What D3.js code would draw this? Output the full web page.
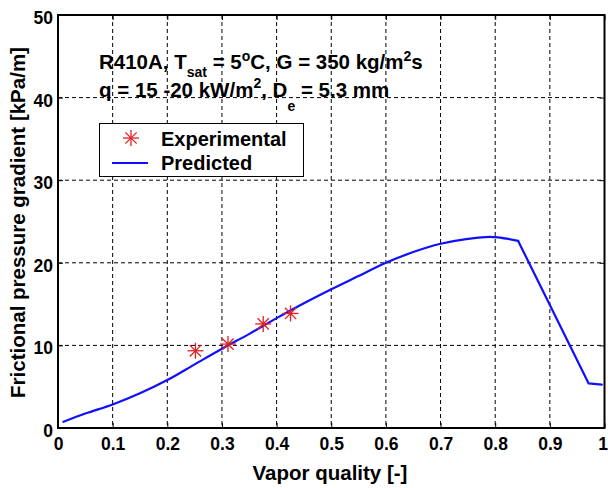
<!DOCTYPE html>
<html>
<head>
<meta charset="utf-8">
<script src="https://cdn.jsdelivr.net/npm/d3@7"></script>
<style>
  html, body { margin: 0; padding: 0; background: #fff; }
  svg { display: block; }
  text { font-family: "Liberation Sans", Arial, Helvetica, sans-serif; font-weight: bold; fill: #000; }
</style>
</head>
<body>
<svg id="chart" width="608" height="488"></svg>
<script>
// Predicted frictional pressure gradient vs vapor quality
const qualityPred = [0.01, 0.05, 0.1, 0.15, 0.2, 0.25, 0.3, 0.35, 0.4, 0.45, 0.5, 0.55, 0.6, 0.65, 0.7, 0.75, 0.79, 0.842, 0.971, 0.995];
const gradientPred = [0.75, 1.75, 2.85, 4.2, 5.8, 7.7, 9.6, 11.4, 13.3, 15.1, 16.8, 18.4, 20.0, 21.3, 22.3, 22.9, 23.15, 22.65, 5.4, 5.25];
// index where the smooth branch ends and the dry-out drop begins
const dryoutStart = 17;

// Measured points
const qualityExp = [0.2515, 0.311, 0.3755, 0.4255];
const gradientExp = [9.35, 10.16, 12.6, 13.87];

// Axis ticks
const xTicks = [0, 0.1, 0.2, 0.3, 0.4, 0.5, 0.6, 0.7, 0.8, 0.9, 1];
const xTickLabels = ["0", "0.1", "0.2", "0.3", "0.4", "0.5", "0.6", "0.7", "0.8", "0.9", "1"];
const yTicks = [0, 10, 20, 30, 40, 50];
const yTickLabels = ["0", "10", "20", "30", "40", "50"];

const legendLabels = ["Experimental", "Predicted"];

const svg = d3.select("#chart");
const plot = { left: 58, right: 604.5, top: 15, bottom: 428 };

const x = d3.scaleLinear().domain([0, 1]).range([plot.left, plot.right]);
const y = d3.scaleLinear().domain([0, 50]).range([plot.bottom, plot.top]);

// Dashed grid
const grid = svg.append("g");
grid.selectAll("line.gx")
  .data(xTicks.slice(1, -1))
  .join("line")
  .attr("x1", d => x(d)).attr("x2", d => x(d))
  .attr("y1", plot.top).attr("y2", plot.bottom)
  .attr("stroke", "#000").attr("stroke-width", 1)
  .attr("stroke-dasharray", "4,3");
grid.selectAll("line.gy")
  .data(yTicks.slice(1, -1))
  .join("line")
  .attr("y1", d => y(d)).attr("y2", d => y(d))
  .attr("x1", plot.left).attr("x2", plot.right)
  .attr("stroke", "#000").attr("stroke-width", 1)
  .attr("stroke-dasharray", "4,3");

// Axes with inward ticks
const tickLen = 5;
const xAxisB = d3.axisBottom(x).tickValues(xTicks).tickSize(-tickLen).tickFormat((d, i) => xTickLabels[i]).tickPadding(11);
const xAxisT = d3.axisTop(x).tickValues(xTicks).tickSize(-tickLen).tickFormat("");
const yAxisL = d3.axisLeft(y).tickValues(yTicks).tickSize(-tickLen).tickFormat((d, i) => yTickLabels[i]).tickPadding(10);
const yAxisR = d3.axisRight(y).tickValues(yTicks).tickSize(-tickLen).tickFormat("");

function styleAxis(g) {
  g.select(".domain").remove();
  g.selectAll(".tick line").attr("stroke", "#000").attr("stroke-width", 1);
  g.selectAll(".tick text")
    .attr("font-family", "Liberation Sans, Arial, sans-serif")
    .attr("font-weight", "bold")
    .attr("font-size", 17.5)
    .attr("fill", "#000");
}

const gxb = svg.append("g").attr("transform", `translate(0,${plot.bottom})`).call(xAxisB).call(styleAxis);
gxb.selectAll(".tick text").attr("dy", null).attr("y", 22);
// the last label sits on the right edge of the window
gxb.selectAll(".tick text").filter(d => d === 1).attr("text-anchor", "end").attr("x", 3);
svg.append("g").attr("transform", `translate(0,${plot.top})`).call(xAxisT).call(styleAxis);
const gyl = svg.append("g").attr("transform", `translate(${plot.left},0)`).call(yAxisL).call(styleAxis);
gyl.selectAll(".tick text").attr("dy", null).attr("x", -5).attr("y", 8.5);
svg.append("g").attr("transform", `translate(${plot.right},0)`).call(yAxisR).call(styleAxis);

// Box
svg.append("rect")
  .attr("x", plot.left).attr("y", plot.top)
  .attr("width", plot.right - plot.left).attr("height", plot.bottom - plot.top)
  .attr("fill", "none").attr("stroke", "#000").attr("stroke-width", 2);

// Predicted curve: smooth rising branch, straight dry-out drop
const predData = qualityPred.map((q, i) => [q, gradientPred[i]]);
const smoothLine = d3.line().x(d => x(d[0])).y(d => y(d[1])).curve(d3.curveMonotoneX);
const straightLine = d3.line().x(d => x(d[0])).y(d => y(d[1]));
const predG = svg.append("g")
  .attr("fill", "none")
  .attr("stroke", "#1010ff")
  .attr("stroke-width", 2.2)
  .attr("stroke-linejoin", "round")
  .attr("stroke-linecap", "round");
predG.append("path").datum(predData.slice(0, dryoutStart + 1)).attr("d", smoothLine);
predG.append("path").datum(predData.slice(dryoutStart)).attr("d", straightLine);

// Asterisk marker
function asterisk(g, cx, cy, r) {
  const dd = r * Math.SQRT1_2;
  const segs = [[-r, 0, r, 0], [0, -r, 0, r], [-dd, -dd, dd, dd], [-dd, dd, dd, -dd]];
  g.selectAll(null).data(segs).join("line")
    .attr("x1", s => cx + s[0]).attr("y1", s => cy + s[1])
    .attr("x2", s => cx + s[2]).attr("y2", s => cy + s[3])
    .attr("stroke", "#e02020").attr("stroke-width", 1.3);
}

const expG = svg.append("g");
qualityExp.forEach((q, i) => {
  asterisk(expG.append("g"), x(q), y(gradientExp[i]), 8);
});

// Conditions annotation
const note = svg.append("text").attr("x", 99).attr("y", 69).attr("font-size", 20.5);
note.append("tspan").text("R410A, T");
note.append("tspan").attr("font-size", 14).attr("dy", 8).text("sat");
note.append("tspan").attr("dy", -8).text(" = 5");
note.append("tspan").attr("font-size", 14).attr("dy", -8).text("o");
note.append("tspan").attr("dy", 8).text("C, G = 350 kg/m");
note.append("tspan").attr("font-size", 14).attr("dy", -8).text("2");
note.append("tspan").attr("dy", 8).text("s");

const note2 = svg.append("text").attr("x", 99).attr("y", 97).attr("font-size", 20.5);
note2.append("tspan").text("q = 15 -20 kW/m");
note2.append("tspan").attr("font-size", 14).attr("dy", -9).text("2");
note2.append("tspan").attr("dy", 9).text(", D");
note2.append("tspan").attr("font-size", 14).attr("dy", 14).text("e");
note2.append("tspan").attr("dy", -14).text(" = 5.3 mm");

// Legend
const leg = svg.append("g");
leg.append("rect")
  .attr("x", 99.5).attr("y", 123.5).attr("width", 204).attr("height", 53)
  .attr("fill", "#fff").attr("stroke", "#000").attr("stroke-width", 1);
asterisk(leg.append("g"), 131, 138, 8);
leg.append("line")
  .attr("x1", 112).attr("x2", 148).attr("y1", 163).attr("y2", 163)
  .attr("stroke", "#1010ff").attr("stroke-width", 2.2);
leg.append("text").attr("x", 161).attr("y", 145.5).attr("font-size", 20).text(legendLabels[0]);
leg.append("text").attr("x", 161).attr("y", 170).attr("font-size", 20).text(legendLabels[1]);

// Axis titles
svg.append("text")
  .attr("x", 330).attr("y", 480)
  .attr("text-anchor", "middle").attr("font-size", 20.5)
  .text("Vapor quality [-]");
svg.append("text")
  .attr("transform", "translate(25,222.5) rotate(-90)")
  .attr("text-anchor", "middle").attr("font-size", 20.5)
  .text("Frictional pressure gradient [kPa/m]");
</script>
</body>
</html>
